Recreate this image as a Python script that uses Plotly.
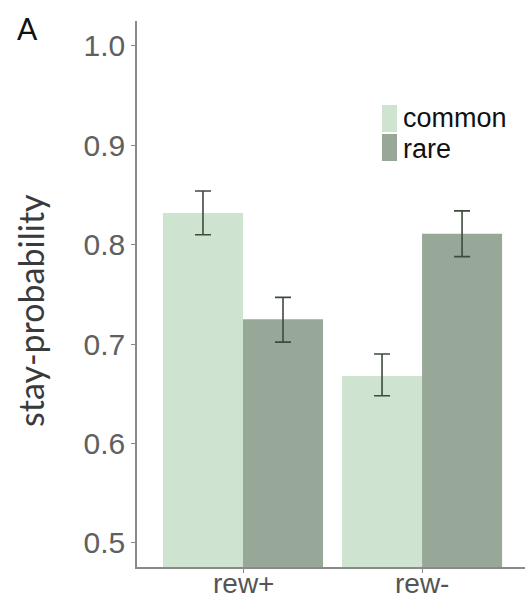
import plotly.graph_objects as go

categories = ["rew+", "rew-"]
common_mean = [0.832, 0.668]
common_upper = [0.854, 0.690]
common_lower = [0.810, 0.648]
rare_mean = [0.725, 0.811]
rare_upper = [0.747, 0.834]
rare_lower = [0.702, 0.788]
y_ticks = [0.5, 0.6, 0.7, 0.8, 0.9, 1.0]
y_ticktext = ["0.5", "0.6", "0.7", "0.8", "0.9", "1.0"]

C_COMMON = "#cfe4d0"
C_RARE = "#98a898"
ERR = "#3f4b3f"

def err(mean, up, lo):
    return dict(type="data", symmetric=False,
                array=[u - m for u, m in zip(up, mean)],
                arrayminus=[m - l for m, l in zip(mean, lo)],
                color=ERR, thickness=1.6, width=8)

fig = go.Figure()
fig.add_bar(x=categories, y=common_mean, name="common", marker_color=C_COMMON,
            marker_line_width=0, error_y=err(common_mean, common_upper, common_lower))
fig.add_bar(x=categories, y=rare_mean, name="rare", marker_color=C_RARE,
            marker_line_width=0, error_y=err(rare_mean, rare_upper, rare_lower))

W, H = 525, 600
L, R, T, B = 137, 0, 21, 33
pw, ph = W - L - R, H - T - B
def px(x): return (x - L) / pw
def py(y): return (H - B - y) / ph

fig.update_layout(
    width=W, height=H, margin=dict(l=L, r=R, t=T, b=B, autoexpand=False),
    plot_bgcolor="white", paper_bgcolor="white",
    barmode="group", bargap=0.106, bargroupgap=0,
    showlegend=False,
    font=dict(family="Liberation Sans, Arial, sans-serif"),
    xaxis=dict(type="category", range=[-0.592, 1.575], showgrid=False,
               automargin=False, showticklabels=False,
               showline=True, linecolor="#8a8a8a", linewidth=1.5,
               ticks="outside", ticklen=4, tickcolor="#8a8a8a"),
    yaxis=dict(range=[0.4758, 1.025], showgrid=False, zeroline=False,
               automargin=False,
               showline=True, linecolor="#8a8a8a", linewidth=1.5,
               ticks="outside", ticklen=4, tickcolor="#8a8a8a",
               tickvals=y_ticks, ticktext=y_ticktext,
               tickfont=dict(size=30, color="#606060")),
)

# category labels
for c in categories:
    fig.add_annotation(text=c, xref="x", yref="paper", x=c, y=py(584),
                       xanchor="center", yanchor="middle", showarrow=False,
                       font=dict(size=28, color="#555555"))

fig.add_annotation(text="stay-probability", xref="paper", yref="paper",
                   x=px(30), y=py(310), textangle=-90, showarrow=False,
                   xanchor="center", yanchor="middle",
                   font=dict(family="Lato, sans-serif", size=34, color="#3a3a3a"))
fig.add_annotation(text="A", xref="paper", yref="paper",
                   x=px(27), y=py(28), showarrow=False,
                   xanchor="center", yanchor="middle",
                   font=dict(family="Lato, sans-serif", size=30, color="#111111"))

fig.add_shape(type="rect", xref="paper", yref="paper",
              x0=px(382), x1=px(397), y0=py(132), y1=py(105),
              fillcolor=C_COMMON, line_width=0)
fig.add_shape(type="rect", xref="paper", yref="paper",
              x0=px(382), x1=px(397), y0=py(161), y1=py(134),
              fillcolor=C_RARE, line_width=0)
fig.add_annotation(text="common", xref="paper", yref="paper", x=px(401), y=py(118),
                   xanchor="left", yanchor="middle", showarrow=False,
                   font=dict(size=27, color="#111111"))
fig.add_annotation(text="rare", xref="paper", yref="paper", x=px(401), y=py(149),
                   xanchor="left", yanchor="middle", showarrow=False,
                   font=dict(size=27, color="#111111"))

fig.write_html("out.html", config={"displayModeBar": False},
               post_script="document.body.style.margin='0px';document.body.style.overflow='hidden';")
